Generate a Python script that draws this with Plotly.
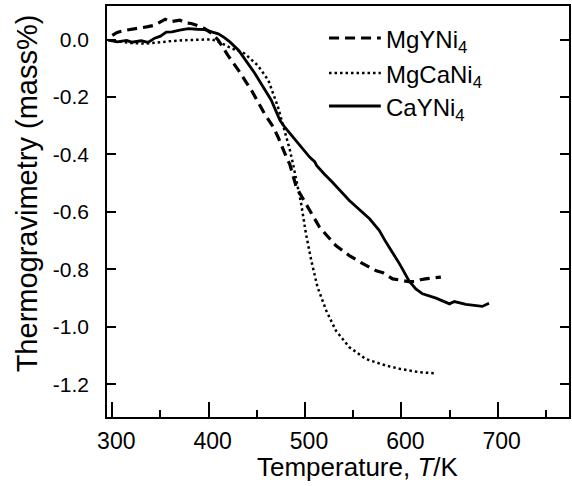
import plotly.graph_objects as go

# ---- data ----
ca_T = [296, 305, 315, 320, 330, 337, 344, 350, 356, 362, 370, 379, 388, 396, 404, 410, 416, 422, 431,
        448, 465, 474, 479, 493, 505, 510, 512, 520, 528, 546, 567, 577, 584, 598, 608, 615, 622, 636,
        650, 655, 667, 684, 691]
ca_y = [-0.002, -0.008, -0.003, -0.009, -0.004, -0.010, 0.005, 0.012, 0.026, 0.027, 0.033, 0.038, 0.036,
        0.035, 0.026, 0.020, 0.008, -0.008, -0.037, -0.118, -0.211, -0.281, -0.305, -0.362, -0.410,
        -0.425, -0.438, -0.468, -0.495, -0.560, -0.624, -0.664, -0.705, -0.780, -0.840, -0.868, -0.885,
        -0.900, -0.920, -0.912, -0.922, -0.929, -0.918]

mgy_T = [300, 305, 313, 327, 337, 344, 350, 355, 360, 365, 370, 376, 382, 389, 396, 403, 410, 420, 431,
         444.5, 458, 467, 472, 482, 484, 491, 494, 501, 515, 532, 546, 560, 574, 581, 591, 600, 608, 615,
         620, 625, 633, 641]
mgy_y = [0.015, 0.025, 0.032, 0.038, 0.045, 0.050, 0.060, 0.071, 0.062, 0.065, 0.068, 0.058, 0.056, 0.048,
         0.038, 0.022, -0.002, -0.055, -0.107, -0.177, -0.258, -0.304, -0.339, -0.420, -0.432, -0.514,
         -0.531, -0.571, -0.653, -0.717, -0.752, -0.780, -0.805, -0.812, -0.833, -0.838, -0.843, -0.842,
         -0.836, -0.833, -0.830, -0.827]

mgca_T = [296, 305, 313, 320, 334, 345, 362, 375, 386, 396, 403, 413, 424, 434, 437.5, 451, 462, 472, 479,
          484, 488, 491, 496, 501, 506.5, 513, 522, 532, 546, 563, 577, 584, 598, 608, 618.5, 636]
mgca_y = [-0.002, -0.005, -0.008, -0.012, -0.014, -0.010, -0.005, -0.002, 0.000, 0.002, 0.001, -0.012,
          -0.031, -0.043, -0.049, -0.090, -0.142, -0.235, -0.316, -0.380, -0.440, -0.490, -0.571, -0.676,
          -0.769, -0.862, -0.943, -1.013, -1.071, -1.112, -1.127, -1.135, -1.146, -1.152, -1.158, -1.162]

series_names = ["MgYNi<sub>4</sub>", "MgCaNi<sub>4</sub>", "CaYNi<sub>4</sub>"]
y_tickvals = [0.0, -0.2, -0.4, -0.6, -0.8, -1.0, -1.2]
y_ticktext = ["0.0", "-0.2", "-0.4", "-0.6", "-0.8", "-1.0", "-1.2"]
x_tickvals = [300, 400, 500, 600, 700]

FONT = "Liberation Sans, Arial, Helvetica, sans-serif"

fig = go.Figure()
fig.add_trace(go.Scatter(x=mgy_T, y=mgy_y, mode="lines", name=series_names[0],
                         line=dict(color="black", width=3.2, dash="10px,6px"), showlegend=False))
fig.add_trace(go.Scatter(x=mgca_T, y=mgca_y, mode="lines", name=series_names[1],
                         line=dict(color="black", width=2.5, dash="2.5px,3px"), showlegend=False))
fig.add_trace(go.Scatter(x=ca_T, y=ca_y, mode="lines", name=series_names[2],
                         line=dict(color="black", width=2.8), showlegend=False))

W, H = 572, 486
ml, mr, mt, mb = 107, 1, 6, 69
pw, ph = W - ml - mr, H - mt - mb


def px2paper(px, py):
    return (px - ml) / pw, 1 - (py - mt) / ph


# custom legend (longer line samples like the reference)
leg_rows = [(38, "10px,6px", 3.2, series_names[0]),
            (73, "2.5px,3px", 2.5, series_names[1]),
            (106, "solid", 3.2, series_names[2])]
shapes = []
annotations = []
for py, dash, wdt, name in leg_rows:
    x0, y0 = px2paper(330, py)
    x1, _ = px2paper(382, py)
    shapes.append(dict(type="line", xref="paper", yref="paper", x0=x0, x1=x1, y0=y0, y1=y0,
                       line=dict(color="black", width=wdt, dash=dash)))
    tx, ty = px2paper(385, py + 3)
    annotations.append(dict(text=name, xref="paper", yref="paper", x=tx, y=ty, xanchor="left",
                            yanchor="middle", showarrow=False, font=dict(size=24, color="black", family=FONT)))

tx, ty = px2paper(359, 467)
annotations.append(dict(text="Temperature, <i>T</i>/K", xref="paper", yref="paper", x=tx, y=ty,
                        xanchor="center", yanchor="middle", showarrow=False,
                        font=dict(size=26, color="black", family=FONT)))
tx, ty = px2paper(27, 193)
annotations.append(dict(text="Thermogravimetry (mass%)", xref="paper", yref="paper", x=tx, y=ty,
                        xanchor="center", yanchor="middle", textangle=-90, showarrow=False,
                        font=dict(size=29, color="black", family=FONT)))

fig.update_layout(
    width=W, height=H,
    margin=dict(l=ml, r=mr, t=mt, b=mb),
    paper_bgcolor="white", plot_bgcolor="white",
    font=dict(family=FONT, color="black"),
    shapes=shapes, annotations=annotations,
    showlegend=False,
)
fig.update_xaxes(range=[294.5, 774], showgrid=False, zeroline=False,
                 showline=True, linecolor="black", linewidth=1.5, mirror=True,
                 tickmode="array", tickvals=x_tickvals, ticks="inside", ticklen=15, tickwidth=1.5,
                 tickcolor="black", tickfont=dict(size=23, family=FONT, color="black"),
                 ticklabelstandoff=3, ticklabelshift=4,
                 minor=dict(dtick=50, tick0=300, ticks="inside", ticklen=7, tickwidth=1.5,
                            tickcolor="black", showgrid=False))
fig.update_yaxes(range=[-1.314, 0.117], showgrid=False, zeroline=False,
                 showline=True, linecolor="black", linewidth=1.5, mirror="ticks",
                 tickmode="array", tickvals=y_tickvals, ticktext=y_ticktext,
                 ticks="inside", ticklen=9, tickwidth=1.5, tickcolor="black",
                 tickfont=dict(size=21, family=FONT, color="black"), ticklabelstandoff=12)

fig.write_html("out.html", config={"displayModeBar": False},
               post_script="document.body.style.margin='0';document.body.style.padding='0';"
                           "document.body.style.overflow='hidden';")
